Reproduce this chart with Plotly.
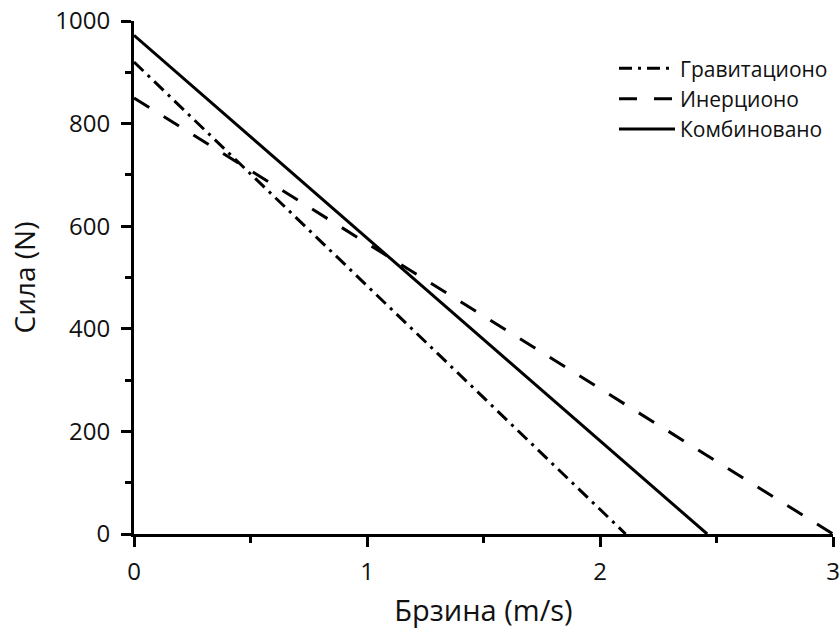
import plotly.graph_objects as go

# Data
speed_grav = [0.0, 2.11]
force_grav = [920, 0]
speed_inert = [0.0, 3.0]
force_inert = [850, 0]
speed_comb = [0.0, 2.46]
force_comb = [972, 0]

names = ["Гравитационо", "Инерционо", "Комбиновано"]

FONT = "Open Sans"

fig = go.Figure()
fig.add_trace(go.Scatter(x=speed_grav, y=force_grav, mode="lines", name=names[0],
                         line=dict(color="black", width=3, dash="13px,6px,3px,6px")))
fig.add_trace(go.Scatter(x=speed_inert, y=force_inert, mode="lines", name=names[1],
                         line=dict(color="black", width=3, dash="18px,17px")))
fig.add_trace(go.Scatter(x=speed_comb, y=force_comb, mode="lines", name=names[2],
                         line=dict(color="black", width=3)))

axis_common = dict(
    showline=True, linecolor="black", linewidth=3,
    ticks="outside", tickcolor="black", tickwidth=3,
    showgrid=False, zeroline=False, ticklabeloverflow="allow",
    automargin=False,
    tickfont=dict(family=FONT, size=24, color="#111"),
)

fig.update_layout(
    width=839, height=629,
    margin=dict(l=134, r=6, t=21, b=95),
    paper_bgcolor="white", plot_bgcolor="white",
    font=dict(family=FONT, color="#111"),
    xaxis=dict(range=[0, 3], dtick=1, ticklen=10, ticklabelstandoff=4,
               minor=dict(dtick=0.5, ticks="outside", ticklen=6, tickwidth=3, tickcolor="black"),
               title=dict(text="Брзина (m/s)", font=dict(family=FONT, size=29, color="#111"), standoff=16),
               **axis_common),
    yaxis=dict(range=[0, 1000], dtick=200, ticklen=10, ticklabelstandoff=6,
               minor=dict(dtick=100, ticks="outside", ticklen=6, tickwidth=3, tickcolor="black"),
               title=dict(text="Сила (N)", font=dict(family=FONT, size=28, color="#111"), standoff=12),
               **axis_common),
    legend=dict(x=1.0, y=0.947, xanchor="right", yanchor="top",
                bgcolor="rgba(0,0,0,0)", itemwidth=56,
                font=dict(family=FONT, size=21, color="#111")),
    showlegend=True,
)

fig.write_html("out.html")
